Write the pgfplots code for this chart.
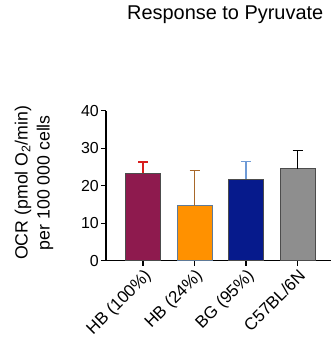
\documentclass[border=0pt]{standalone}
\usepackage{pgfplots}
\pgfplotsset{compat=1.18}
\usepackage{fontspec}
\setmainfont{Liberation Sans}

\definecolor{hbfull}{HTML}{8E1A4E}
\definecolor{hbpart}{HTML}{FF9100}
\definecolor{bgcol}{HTML}{061A8C}
\definecolor{wtcol}{HTML}{8E8E8E}
\definecolor{errred}{HTML}{D81E1E}
\definecolor{errbrown}{HTML}{A8682A}
\definecolor{errblue}{HTML}{6E9AD6}
\definecolor{edgeblue}{HTML}{5E7A98}

\begin{document}
\begin{tikzpicture}
\useasboundingbox (-106bp,-85.3bp) rectangle (225bp,260.7bp);
\begin{axis}[
  at={(0,0)}, anchor=south west,
  scale only axis, width=225bp, height=150bp,
  xmin=-0.72, xmax=3.65, ymin=0, ymax=40,
  axis x line*=bottom, axis y line*=left,
  axis line style={line width=1.3bp, -},
  /pgf/number format/assume math mode=true,
  xtick={0,1,2,3},
  xticklabels={HB (100\%), HB (24\%), BG (95\%), C57BL/6N},
  x tick label style={rotate=45, anchor=north east, font=\fontsize{17}{17}\selectfont, inner sep=1.5bp},
  ytick={0,10,20,30,40},
  y tick label style={font=\fontsize{16}{16}\selectfont, inner sep=2bp},
  tick style={line width=1.2bp, black},
  tick align=outside, major tick length=5bp,
  ylabel={OCR (pmol O\textsubscript{2}/min)\\per 100 000 cells},
  every axis y label/.style={at={(axis description cs:-0.32,0.52)}, rotate=90, anchor=center},
  ylabel style={align=center, font=\fontsize{17.8}{22}\selectfont},
  title={Response to Pyruvate},
  title style={font=\fontsize{20}{20}\selectfont, at={(0.53,1)}, anchor=south, yshift=78bp},
  ybar, bar width=35bp, bar shift=0pt,
  error bars/y dir=plus, error bars/y explicit,
]
\addplot[fill=hbfull, draw=black!70, line width=0.8bp,
  error bars/error bar style={errred, line width=1.3bp},
  error bars/error mark options={rotate=90, mark size=5bp, line width=1.3bp, errred}]
  coordinates {(0,23.3) +- (0,3.0)};
\addplot[fill=hbpart, draw=edgeblue, line width=0.8bp,
  error bars/error bar style={errbrown, line width=1.3bp},
  error bars/error mark options={rotate=90, mark size=5bp, line width=1.3bp, errbrown}]
  coordinates {(1,14.7) +- (0,9.3)};
\addplot[fill=bgcol, draw=black!70, line width=0.8bp,
  error bars/error bar style={errblue, line width=1.3bp},
  error bars/error mark options={rotate=90, mark size=5bp, line width=1.3bp, errblue}]
  coordinates {(2,21.8) +- (0,4.7)};
\addplot[fill=wtcol, draw=black!70, line width=0.8bp,
  error bars/error bar style={black, line width=1.3bp},
  error bars/error mark options={rotate=90, mark size=5bp, line width=1.3bp, black}]
  coordinates {(3,24.5) +- (0,4.9)};
\end{axis}
\end{tikzpicture}
\end{document}
